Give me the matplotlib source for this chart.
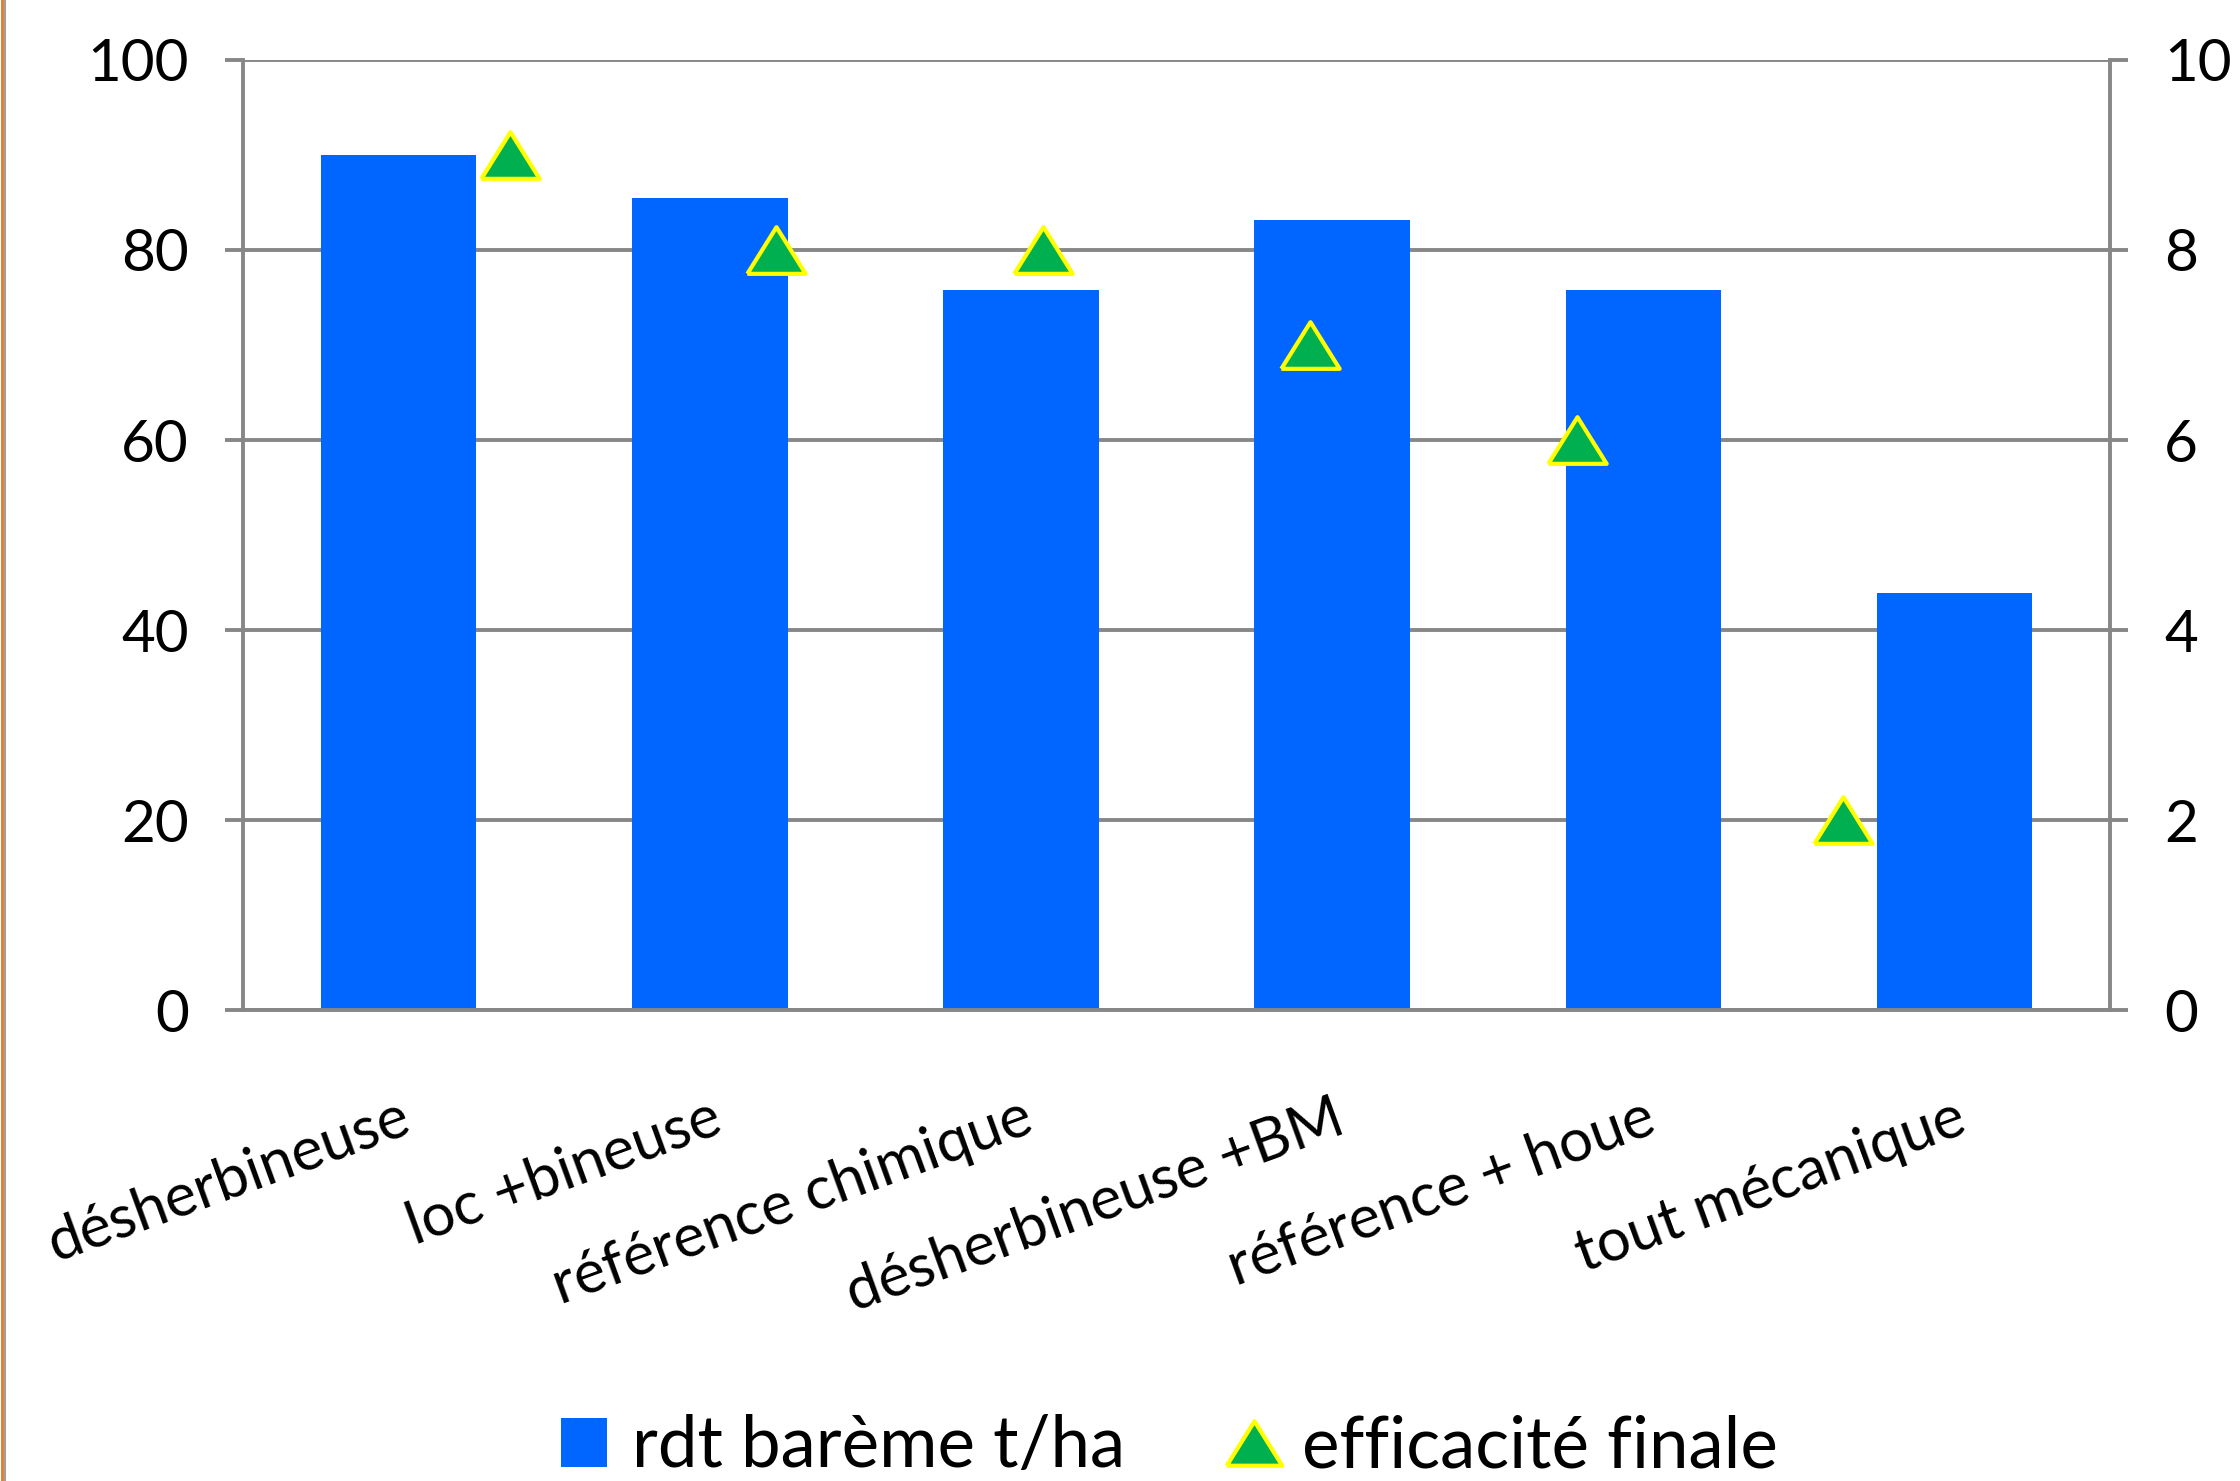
import numpy as np
import matplotlib
matplotlib.use("Agg")
import matplotlib.pyplot as plt
from matplotlib.lines import Line2D
from matplotlib.patches import Patch

plt.rcParams['font.family'] = ['Lato', 'DejaVu Sans']

# data
categories = ["désherbineuse", "loc +bineuse", "référence chimique",
              "désherbineuse +BM", "référence + houe", "tout mécanique"]
rdt_bareme = [90.0, 85.5, 75.8, 83.2, 75.8, 43.9]
efficacite = [9, 8, 8, 7, 6, 2]
left_ticks = [0, 20, 40, 60, 80, 100]
right_ticks = [0, 2, 4, 6, 8, 10]

bar_color = "#0066FF"
tri_face = "#00B050"
tri_edge = "#FFFF00"
grid_color = "#878787"

# wider-than-tall triangle marker
tri = [(-1, -0.8), (1, -0.8), (0, 0.8), (-1, -0.8)]

fig = plt.figure(figsize=(22.4, 14.81), dpi=100)
rect = [0.1085, 0.318, 0.8335, 0.6415]

# bars on the primary axes
ax = fig.add_axes(rect)
x = np.arange(len(categories))
ax.bar(x, rdt_bareme, width=0.5, color=bar_color, zorder=2)
ax.set_xlim(-0.5, len(categories) - 0.5)
ax.set_ylim(0, 100)
ax.set_yticks(left_ticks)
ax.set_xticks(x)
ax.set_xticklabels(categories, rotation=20, ha='right', rotation_mode='anchor')
ax.yaxis.grid(True, color=grid_color, lw=2.8)
ax.set_axisbelow(True)
for side in ['top', 'right']:
    ax.spines[side].set_visible(False)
for side in ['left', 'bottom']:
    ax.spines[side].set_color(grid_color)
    ax.spines[side].set_linewidth(2.8)
ax.tick_params(axis='y', length=13, width=2.8, color=grid_color, pad=26, labelsize=42)
ax.tick_params(axis='x', length=0, pad=58, labelsize=43)

# triangles on a secondary axes (own x and y scale)
ax2 = fig.add_axes(rect, facecolor='none')
xt = np.arange(1, len(efficacite) + 1)
ax2.plot(xt, efficacite, ls='none', marker=tri, ms=42, mfc=tri_face,
         mec=tri_edge, mew=3, zorder=3, clip_on=False)
ax2.set_xlim(0, len(efficacite) + 1)
ax2.set_ylim(0, 10)
ax2.set_yticks(right_ticks)
ax2.yaxis.tick_right()
ax2.xaxis.set_visible(False)
for side in ['top', 'left', 'bottom']:
    ax2.spines[side].set_visible(False)
ax2.spines['right'].set_color(grid_color)
ax2.spines['right'].set_linewidth(2.8)
ax2.tick_params(axis='y', length=13, width=2.8, color=grid_color, pad=26, labelsize=42)

# legend
handles = [Patch(facecolor=bar_color, edgecolor='none'),
           Line2D([], [], ls='none', marker=tri, ms=40, mfc=tri_face, mec=tri_edge, mew=3)]
fig.legend(handles, ["rdt barème t/ha", "efficacité finale"], loc='lower center',
           bbox_to_anchor=(0.522, -0.042), ncol=2, frameon=False, fontsize=51,
           handlelength=0.65, handleheight=0.7, handletextpad=0.35, columnspacing=1.5)

# slide edge lines at the far left
fig.add_artist(Line2D([0.0007, 0.0007], [0, 1], transform=fig.transFigure, color="#E07B2A", lw=2))
fig.add_artist(Line2D([0.0022, 0.0022], [0, 1], transform=fig.transFigure, color="#A0A0A0", lw=1.5))

fig.savefig("out.png", dpi=100)
